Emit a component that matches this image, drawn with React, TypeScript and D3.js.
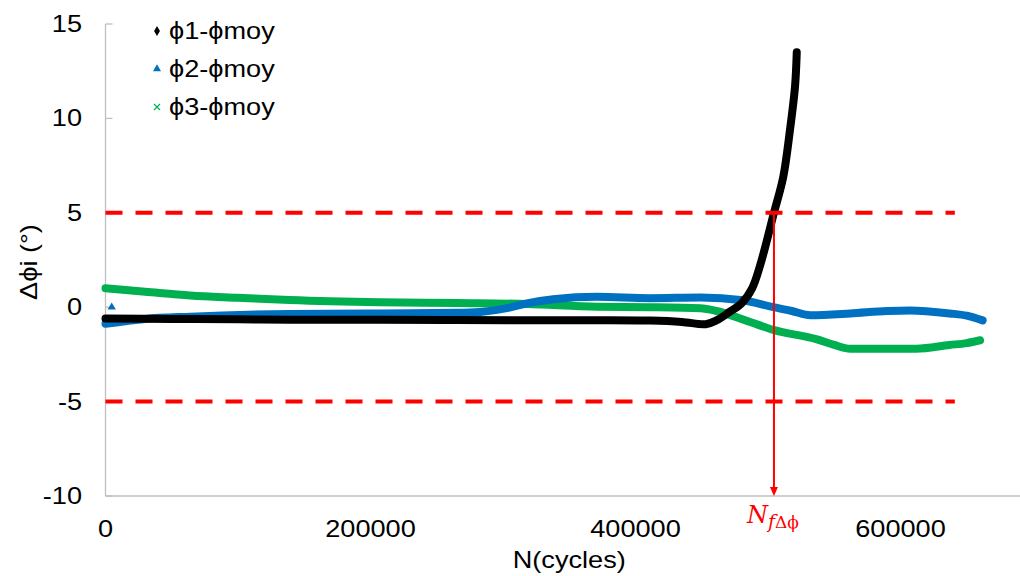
import React, { useEffect, useRef } from 'react';
import * as d3 from 'd3';

// N (cycles) / Δϕ (°)
const phi1X = [0, 50000, 100000, 139000, 207000, 265000, 320000, 371000, 411000, 435000, 453000, 461000, 471000, 480000, 488000, 494000, 504500, 511500, 516600, 520400, 521700];
const phi1Y = [-0.6, -0.62, -0.64, -0.66, -0.66, -0.68, -0.69, -0.69, -0.71, -0.78, -0.9, -0.7, -0.25, 0.2, 1.0, 2.2, 5.0, 6.9, 9.4, 11.7, 13.5];

const phi2X = [0, 30000, 64000, 139000, 207000, 265000, 283000, 303000, 318000, 338000, 371000, 411000, 449000, 481000, 504000, 518000, 532000, 562000, 590000, 607000, 637000, 650000, 662000];
const phi2Y = [-0.88, -0.62, -0.5, -0.36, -0.33, -0.3, -0.25, -0.05, 0.2, 0.42, 0.55, 0.48, 0.52, 0.37, 0.0, -0.2, -0.42, -0.33, -0.2, -0.17, -0.33, -0.45, -0.7];

const phi3X = [0, 30000, 64000, 100000, 139000, 207000, 265000, 318000, 371000, 411000, 449000, 461000, 486000, 504000, 537000, 550000, 562000, 612000, 637000, 650000, 660000];
const phi3Y = [1.0, 0.82, 0.62, 0.5, 0.38, 0.26, 0.22, 0.17, 0.02, 0.0, -0.06, -0.2, -0.77, -1.2, -1.7, -2.0, -2.2, -2.2, -2.0, -1.9, -1.75];

// stray point of series 2 near the origin
const phi2Stray = [4700, 0];

const legendLabels = ['ϕ1-ϕmoy', 'ϕ2-ϕmoy', 'ϕ3-ϕmoy'];
const seriesColors = ['#000000', '#0070C0', '#00B050'];

const xTicks = [0, 200000, 400000, 600000];
const yTicks = [-10, -5, 0, 5, 10, 15];
const limits = [-5, 5];
const limitEndX = 641000;
const nfX = 504500;

const App: React.FC = () => {
  const svgRef = useRef<SVGSVGElement>(null);

  useEffect(() => {
    if (!svgRef.current) return;
    const svg = d3.select(svgRef.current);
    svg.selectAll('*').remove();

    const font = '"Liberation Sans", Arial, sans-serif';
    const x = d3.scaleLinear().domain([0, 700000]).range([105.5, 1033]);
    const y = d3.scaleLinear().domain([-10, 15]).range([496, 24]);
    const axisColor = '#BFBFBF';
    const stretch = 1.18;

    // text a little wider than Arial, like the picture
    const label = (tx: number, ty: number, txt: string, anchor: string, rot = 0) =>
      svg.append('text')
        .attr('transform', `translate(${tx}, ${ty}) rotate(${rot}) scale(${stretch}, 1)`)
        .attr('text-anchor', anchor)
        .style('font-family', font).style('font-size', '23px')
        .attr('fill', '#000')
        .text(txt);

    // axes
    svg.append('line')
      .attr('x1', x(0)).attr('x2', x(0))
      .attr('y1', y(15)).attr('y2', y(-10))
      .attr('stroke', axisColor).attr('stroke-width', 1.3);
    svg.append('line')
      .attr('x1', x(0)).attr('x2', 1020)
      .attr('y1', y(-10)).attr('y2', y(-10))
      .attr('stroke', axisColor).attr('stroke-width', 1.3);

    yTicks.forEach(t => {
      svg.append('line')
        .attr('x1', x(0)).attr('x2', x(0) + 7)
        .attr('y1', y(t)).attr('y2', y(t))
        .attr('stroke', axisColor).attr('stroke-width', 1.3);
      label(82, y(t) + 8, String(t), 'end');
    });

    xTicks.forEach(t => {
      label(x(t), 537, String(t), 'middle');
    });

    // axis titles
    label(37, 262, 'Δϕi (°)', 'middle', -90);
    label((x(0) + x(700000)) / 2, 568, 'N(cycles)', 'middle');

    // series
    const series = [
      { xs: phi3X, ys: phi3Y, color: seriesColors[2], curve: d3.curveMonotoneX },
      { xs: phi2X, ys: phi2Y, color: seriesColors[1], curve: d3.curveMonotoneX },
      { xs: phi1X, ys: phi1Y, color: seriesColors[0], curve: d3.curveCatmullRom.alpha(0.5) }
    ];
    series.forEach(s => {
      const pts = s.xs.map((v, i) => [v, s.ys[i]] as [number, number]);
      const line = d3.line<[number, number]>()
        .x(d => x(d[0]))
        .y(d => y(d[1]))
        .curve(s.curve);
      svg.append('path')
        .datum(pts)
        .attr('d', line)
        .attr('fill', 'none')
        .attr('stroke', s.color)
        .attr('stroke-width', 8)
        .attr('stroke-linecap', 'round')
        .attr('stroke-linejoin', 'round');
    });

    svg.append('path')
      .attr('d', d3.symbol(d3.symbolTriangle, 30)())
      .attr('transform', `translate(${x(phi2Stray[0])}, ${y(phi2Stray[1])})`)
      .attr('fill', seriesColors[1]);

    // limit lines at ±5°
    limits.forEach(l => {
      svg.append('line')
        .attr('x1', x(0)).attr('x2', x(limitEndX))
        .attr('y1', y(l)).attr('y2', y(l))
        .attr('stroke', '#FF0000')
        .attr('stroke-width', 4)
        .attr('stroke-dasharray', '17,13');
    });

    // N_fΔϕ arrow
    svg.append('line')
      .attr('x1', x(nfX)).attr('x2', x(nfX))
      .attr('y1', y(5)).attr('y2', y(-10) - 8)
      .attr('stroke', '#FF0000').attr('stroke-width', 2);
    svg.append('path')
      .attr('d', `M${x(nfX) - 4},${y(-10) - 9} L${x(nfX) + 4},${y(-10) - 9} L${x(nfX)},${y(-10)} Z`)
      .attr('fill', '#FF0000');

    const nf = svg.append('text')
      .attr('x', 747).attr('y', 523)
      .attr('fill', '#FF0000')
      .style('font-family', '"DejaVu Serif", "Liberation Serif", serif');
    nf.append('tspan').style('font-style', 'italic').style('font-size', '24px').text('N');
    nf.append('tspan').attr('dy', 5).style('font-style', 'italic').style('font-size', '19px').text('f');
    nf.append('tspan').style('font-size', '17px').text('Δϕ');

    // legend
    const legendY = [31, 69, 107];
    legendLabels.forEach((lab, i) => {
      const cy = legendY[i];
      const cx = 157;
      if (i === 0) {
        svg.append('path')
          .attr('d', d3.symbol(d3.symbolDiamond, 30)())
          .attr('transform', `translate(${cx}, ${cy})`)
          .attr('fill', seriesColors[0]);
      } else if (i === 1) {
        svg.append('path')
          .attr('d', d3.symbol(d3.symbolTriangle, 28)())
          .attr('transform', `translate(${cx}, ${cy})`)
          .attr('fill', seriesColors[1]);
      } else {
        svg.append('path')
          .attr('d', `M${cx - 3},${cy - 3} L${cx + 3},${cy + 3} M${cx - 3},${cy + 3} L${cx + 3},${cy - 3}`)
          .attr('stroke', seriesColors[2])
          .attr('stroke-width', 1.2);
      }
      label(169, cy + 8, lab, 'start');
    });
  }, []);

  return (
    <svg
      ref={svgRef}
      width={1020}
      height={576}
      style={{ position: 'absolute', left: 0, top: 0, background: '#fff' }}
    />
  );
};

export default App;
